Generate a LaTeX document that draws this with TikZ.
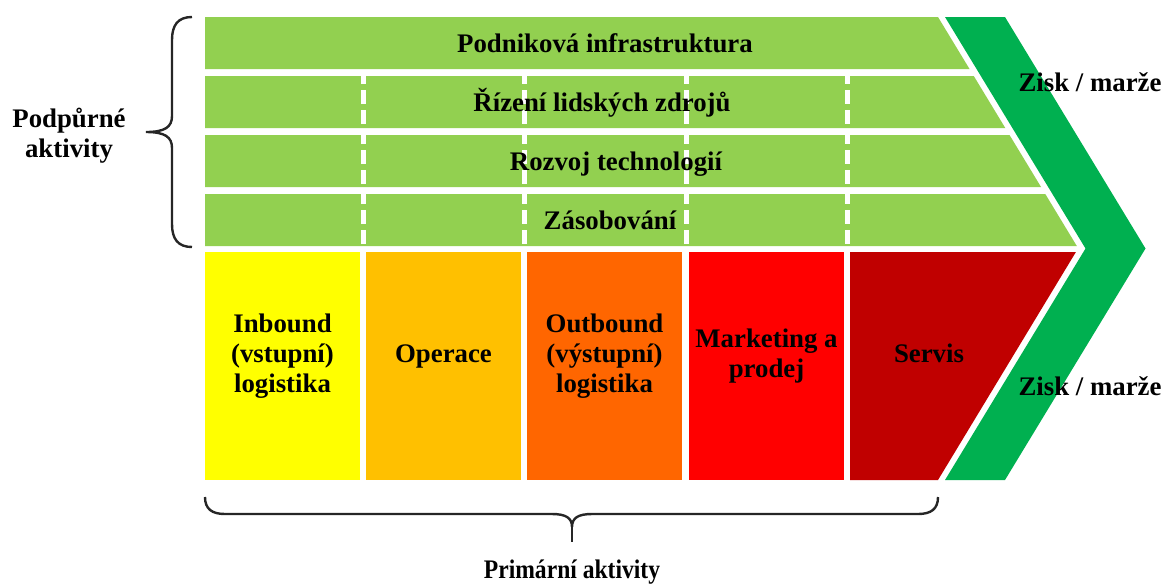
\documentclass[tikz,border=0pt]{standalone}
\usepackage{fontspec}
\setmainfont{Liberation Serif}
\usetikzlibrary{calc}

\definecolor{supgreen}{RGB}{146,208,80}
\definecolor{margreen}{RGB}{0,176,80}
\definecolor{inyellow}{RGB}{255,255,0}
\definecolor{opamber}{RGB}{255,192,0}
\definecolor{outorange}{RGB}{255,102,0}
\definecolor{mkred}{RGB}{255,0,0}
\definecolor{servred}{RGB}{192,0,0}

\begin{document}
\begin{tikzpicture}[
			x = 0.5pt, y = -0.5pt,
			lbl/.style = {font = \fontsize{13.4}{15}\selectfont\bfseries, align = center, inner sep = 0pt, anchor = base},
			dgap/.style = {white, line width = 2.5pt, dash pattern = on 7pt off 3pt},
			brace/.style = {black!85, line width = 1.2pt}]
			\useasboundingbox (0,0) rectangle (1165,585);

			% margin chevron
			\fill[margreen] (945,17) -- (1005,17) -- (1145.5,248.5) -- (1005,480) -- (945,480) -- (1085.5,248.5) -- cycle;

			% support activities
			\foreach \t in {17,76,135,194}
			\fill[supgreen] (205,\t) -- ({938+0.6061*(\t-17)},\t) -- ({938+0.6061*(\t+35)},\t+52) -- (205,\t+52) -- cycle;
			\foreach \x in {363,524.5,686,847}
			\draw[dgap] (\x,70) -- (\x,250);

			% primary activities
			\foreach \x/\c in {205/inyellow, 366/opamber, 527/outorange, 689/mkred}
			\fill[\c] (\x,252) rectangle ++(155,228);
			\fill[servred] (850,252) -- (1075.9,252) -- (938,480) -- (850,480) -- cycle;

			% Labels (base = last line)
			\node[lbl] (infra) at (605,52) {Podniková infrastruktura};
			\node[lbl] (hr) at (602,111) {Řízení lidských zdrojů};
			\node[lbl] (tech) at (616,170) {Rozvoj technologií};
			\node[lbl] (proc) at (610,229) {Zásobování};
			\node[lbl] (inlog) at (282.5,392) {Inbound\\(vstupní)\\logistika};
			\node[lbl] (oper) at (443.5,362) {Operace};
			\node[lbl] (outlog) at (604.5,392) {Outbound\\(výstupní)\\logistika};
			\node[lbl] (mkt) at (766.5,377) {Marketing a\\prodej};
			\node[lbl] (serv) at (929,362) {Servis};
			\node[lbl] (marg1) at (1090,91) {Zisk / marže};
			\node[lbl] (marg2) at (1090,395) {Zisk / marže};
			\node[lbl] (supp) at (69,157) {Podpůrné\\aktivity};
			\node[lbl, xscale = 0.88, transform shape] (prim) at (572,578) {Primární aktivity};

			% braces
			\draw[brace] (192,17) .. controls (178,17) and (172,25) .. (172,40) -- (172,116)
			.. controls (172,127) and (165,132) .. (146,132)
			.. controls (165,132) and (172,137) .. (172,148) -- (172,224)
			.. controls (172,239) and (178,247) .. (192,247);
			\draw[brace] (205,497) .. controls (205,509) and (212,514) .. (225,514) -- (552,514)
			.. controls (566,514) and (572,518) .. (572,527)
			.. controls (572,518) and (578,514) .. (592,514) -- (918,514)
			.. controls (931,514) and (938,509) .. (938,497);
			\draw[brace] (572,527) -- (572,542);
		\end{tikzpicture}
\end{document}
